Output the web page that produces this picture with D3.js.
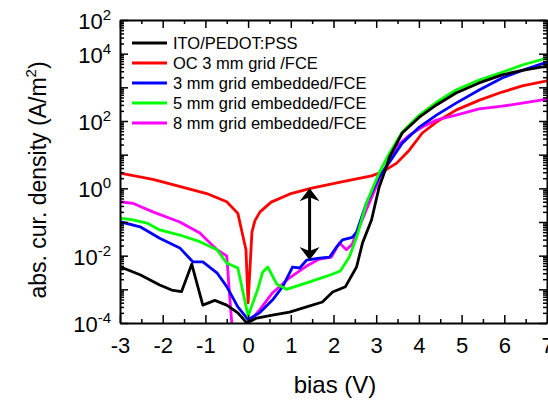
<!DOCTYPE html>
<html>
<head>
<meta charset="utf-8">
<script src="https://cdn.jsdelivr.net/npm/d3@7"></script>
<style>
  body { margin: 0; background: #fff; }
  svg { display: block; font-family: "Liberation Sans", Arial, sans-serif; }
</style>
</head>
<body>
<div id="chart"></div>
<script>
// legend names and colours
const seriesNames = ["ITO/PEDOT:PSS", "OC 3 mm grid /FCE", "3 mm grid embedded/FCE", "5 mm grid embedded/FCE", "8 mm grid embedded/FCE"];
const seriesColors = ["#000000", "#ff0000", "#0000ff", "#00ff00", "#ff00ff"];

// bias (V) and abs. current density (A/m^2)
const biasITO = [-3, -2.53, -2.07, -1.79, -1.56, -1.32, -1.06, -0.78, -0.5, -0.24, -0.03, 0.2, 0.57, 0.97, 1.37, 1.74, 1.98, 2.28, 2.54, 2.68, 2.89, 3.07, 3.24, 3.31, 3.61, 4.01, 4.41, 4.87, 5.41, 5.95, 6.42, 7];
const jITO = [4.7e-3, 2.7e-3, 1.35e-3, 9.5e-4, 8.5e-4, 5.6e-3, 3.4e-4, 4.7e-4, 3.4e-4, 2.0e-4, 1.0e-4, 1.4e-4, 1.7e-4, 2.1e-4, 3.0e-4, 4.2e-4, 8.3e-4, 1.2e-3, 4.6e-3, 2.4e-2, 0.115, 1.1, 4.4, 8.5, 44, 130, 300, 680, 1350, 2350, 3200, 4300];

const biasOC = [-3, -2.23, -1.43, -0.97, -0.5, -0.24, -0.05, 0, 0.09, 0.16, 0.28, 0.54, 0.98, 1.49, 2.19, 2.89, 3.15, 3.48, 3.78, 4.08, 4.41, 4.88, 5.42, 5.95, 6.42, 7];
const jOC = [2.85, 1.85, 1.0, 0.7, 0.4, 0.18, 1.5e-2, 4e-4, 5e-2, 0.11, 0.2, 0.39, 0.68, 1.02, 1.55, 2.35, 3.1, 5.6, 13.8, 44, 93, 214, 417, 724, 1100, 1550];

const bias3mm = [-3, -2.53, -2.07, -1.6, -1.29, -1.06, -0.73, -0.5, -0.24, 0, 0.27, 0.57, 0.81, 1.04, 1.21, 1.37, 1.67, 1.91, 2.07, 2.21, 2.44, 2.54, 2.77, 3.07, 3.31, 3.61, 4.01, 4.41, 4.87, 5.41, 5.95, 6.42, 7];
const j3mm = [0.102, 7.2e-2, 3.3e-2, 1.7e-2, 6.5e-3, 6.5e-3, 3.1e-3, 1.2e-3, 3.0e-4, 1.26e-4, 2.0e-4, 4.8e-4, 1.2e-3, 4.6e-3, 4.3e-3, 7.4e-3, 8.5e-3, 9.1e-3, 1.8e-2, 2.95e-2, 3.5e-2, 5e-2, 0.36, 2.2, 6.0, 22, 66, 150, 340, 830, 1900, 3200, 5600];

const bias5mm = [-3, -2.7, -2.37, -2.07, -1.6, -1.13, -0.73, -0.5, -0.24, 0, 0.22, 0.34, 0.46, 0.67, 0.9, 1.37, 1.86, 2.16, 2.37, 2.54, 2.77, 3.07, 3.31, 3.61, 4.01, 4.41, 4.87, 5.41, 5.95, 6.42, 7];
const j5mm = [0.13, 0.115, 9.3e-2, 5.8e-2, 4.1e-2, 2.6e-2, 1.5e-2, 6.0e-3, 4.3e-3, 1.6e-4, 9.5e-4, 3.2e-3, 4.6e-3, 1.45e-3, 1.0e-3, 1.55e-3, 2.5e-3, 3.5e-3, 9.1e-3, 3.5e-2, 0.36, 2.9, 11, 47, 150, 360, 830, 1650, 2800, 4600, 7400];

const bias8mm = [-3, -2.7, -2.23, -1.6, -1.13, -0.73, -0.5, -0.43, -0.35, 0, 0.27, 0.57, 0.97, 1.37, 1.67, 1.95, 2.14, 2.3, 2.44, 2.77, 3.07, 3.24, 3.47, 3.78, 4.08, 4.41, 4.87, 5.41, 5.95, 6.42, 7];
const j8mm = [0.4, 0.36, 0.2, 0.1, 4.7e-2, 1.5e-2, 9.8e-3, 5.9e-4, 3e-5, 1.0e-4, 2.45e-4, 7.8e-4, 2.2e-3, 4.9e-3, 7.9e-3, 9.1e-3, 2.4e-2, 1.5e-2, 2.2e-2, 0.23, 1.8, 4.6, 17, 38, 66, 107, 150, 230, 275, 340, 450];

// axes
const xDomain = [-3, 7];
const xTicks = [-3, -2, -1, 0, 1, 2, 3, 4, 5, 6, 7];
const yDomain = [1e-4, 1e5];
const yTickValues = [1e-4, 1e-2, 1, 1e2, 1e4, 1e5];
const yTickExps = ["-4", "-2", "0", "2", "4", "2"];

// double arrow between OC and embedded curve
const arrowBias = 1.44;
const arrowTop = 1.0;
const arrowBottom = 7.4e-3;

const width = 548, height = 402;
const plotLeft = 120, plotRight = 547, plotTop = 20, plotBottom = 323;

const svg = d3.select("#chart").append("svg")
  .attr("width", width)
  .attr("height", height);

const x = d3.scaleLinear().domain(xDomain).range([plotLeft, plotRight]);
const y = d3.scaleLog().domain(yDomain).range([plotBottom, plotTop]);

svg.append("clipPath").attr("id", "plot-clip")
  .append("rect")
  .attr("x", plotLeft).attr("y", plotTop)
  .attr("width", plotRight - plotLeft).attr("height", plotBottom - plotTop);

const series = [
  [biasITO, jITO], [biasOC, jOC], [bias3mm, j3mm], [bias5mm, j5mm], [bias8mm, j8mm]
].map((s, i) => ({
  name: seriesNames[i],
  color: seriesColors[i],
  points: s[0].map((b, k) => [b, s[1][k]])
}));

const line = d3.line()
  .x(d => x(d[0]))
  .y(d => y(d[1]));

const plot = svg.append("g").attr("clip-path", "url(#plot-clip)");
const drawOrder = [1, 4, 2, 3, 0];
drawOrder.forEach(i => {
  plot.append("path")
    .datum(series[i].points)
    .attr("d", line)
    .attr("fill", "none")
    .attr("stroke", series[i].color)
    .attr("stroke-width", 2.8)
    .attr("stroke-linejoin", "round");
});

// minor ticks
const xMinor = d3.range(xDomain[0] + 0.5, xDomain[1], 1);
const yMinor = [];
for (let e = -4; e < 5; e++) {
  for (let m = 2; m <= 9; m++) yMinor.push(m * Math.pow(10, e));
}
const yMajor = d3.range(-4, 6).map(e => Math.pow(10, e));

function styleAxis(g, keepDomain) {
  g.select(".domain").attr("stroke", keepDomain ? "#000" : "none").attr("stroke-width", 2);
  g.selectAll(".tick line").attr("stroke", "#000").attr("stroke-width", 1.5);
  g.selectAll(".tick text").remove();
}

// bottom
const gBottom = svg.append("g").attr("transform", `translate(0,${plotBottom})`)
  .call(d3.axisBottom(x).tickValues(xTicks).tickSizeInner(-8).tickSizeOuter(0).tickPadding(14).tickFormat(d => String(d)));
gBottom.select(".domain").attr("stroke", "#000").attr("stroke-width", 2);
gBottom.selectAll(".tick line").attr("stroke", "#000").attr("stroke-width", 1.5);
gBottom.selectAll(".tick text")
  .attr("fill", "#000")
  .style("font-size", "22px")
  .style("font-family", "'Liberation Sans', Arial, sans-serif");

svg.append("g").attr("transform", `translate(0,${plotBottom})`)
  .call(d3.axisBottom(x).tickValues(xMinor).tickSizeInner(-4).tickSizeOuter(0).tickFormat(""))
  .call(g => styleAxis(g, false));

// top
svg.append("g").attr("transform", `translate(0,${plotTop})`)
  .call(d3.axisTop(x).tickValues(xTicks).tickSizeInner(-8).tickSizeOuter(0).tickFormat(""))
  .call(g => styleAxis(g, true));
svg.append("g").attr("transform", `translate(0,${plotTop})`)
  .call(d3.axisTop(x).tickValues(xMinor).tickSizeInner(-4).tickSizeOuter(0).tickFormat(""))
  .call(g => styleAxis(g, false));

// left
svg.append("g").attr("transform", `translate(${plotLeft},0)`)
  .call(d3.axisLeft(y).tickValues(yMajor).tickSizeInner(-8).tickSizeOuter(0).tickFormat(""))
  .call(g => styleAxis(g, true));
svg.append("g").attr("transform", `translate(${plotLeft},0)`)
  .call(d3.axisLeft(y).tickValues(yMinor).tickSizeInner(-4).tickSizeOuter(0).tickFormat(""))
  .call(g => styleAxis(g, false));

// right
svg.append("g").attr("transform", `translate(${plotRight},0)`)
  .call(d3.axisRight(y).tickValues(yMajor).tickSizeInner(-8).tickSizeOuter(0).tickFormat(""))
  .call(g => styleAxis(g, true));
svg.append("g").attr("transform", `translate(${plotRight},0)`)
  .call(d3.axisRight(y).tickValues(yMinor).tickSizeInner(-4).tickSizeOuter(0).tickFormat(""))
  .call(g => styleAxis(g, false));

// y tick labels: 10 with superscript exponent
yTickValues.forEach((v, i) => {
  const t = svg.append("text")
    .attr("x", 111)
    .attr("y", y(v) + 9)
    .attr("text-anchor", "end")
    .attr("fill", "#000")
    .style("font-size", "22px");
  t.append("tspan").text("10");
  t.append("tspan").attr("dy", -9).style("font-size", "15px").text(yTickExps[i]);
});

// axis titles
svg.append("text")
  .attr("x", 335).attr("y", 393)
  .attr("text-anchor", "middle")
  .attr("fill", "#000")
  .style("font-size", "24px")
  .text("bias (V)");

const yTitle = svg.append("text")
  .attr("transform", "translate(46,180) rotate(-90)")
  .attr("text-anchor", "middle")
  .attr("fill", "#000")
  .style("font-size", "23px");
yTitle.append("tspan").text("abs. cur. density (A/m");
yTitle.append("tspan").attr("dy", -10).style("font-size", "15px").text("2");
yTitle.append("tspan").attr("dy", 10).text(")");

// legend
const legend = svg.append("g");
series.forEach((s, i) => {
  const ly = 43 + i * 20;
  legend.append("line")
    .attr("x1", 132).attr("x2", 167)
    .attr("y1", ly).attr("y2", ly)
    .attr("stroke", s.color)
    .attr("stroke-width", 3);
  legend.append("text")
    .attr("x", 173).attr("y", ly)
    .attr("dy", "0.36em")
    .attr("fill", "#000")
    .style("font-size", "16.5px")
    .text(s.name);
});

// double-headed arrow
const ax = x(arrowBias), ay1 = y(arrowTop), ay2 = y(arrowBottom);
svg.append("line")
  .attr("x1", ax).attr("x2", ax)
  .attr("y1", ay1 + 8).attr("y2", ay2 - 8)
  .attr("stroke", "#000")
  .attr("stroke-width", 3);
svg.append("path")
  .attr("d", `M${ax},${ay1} L${ax + 10},${ay1 + 13} L${ax},${ay1 + 9} L${ax - 10},${ay1 + 13} Z`)
  .attr("fill", "#000");
svg.append("path")
  .attr("d", `M${ax},${ay2} L${ax + 10},${ay2 - 13} L${ax},${ay2 - 9} L${ax - 10},${ay2 - 13} Z`)
  .attr("fill", "#000");
</script>
</body>
</html>
